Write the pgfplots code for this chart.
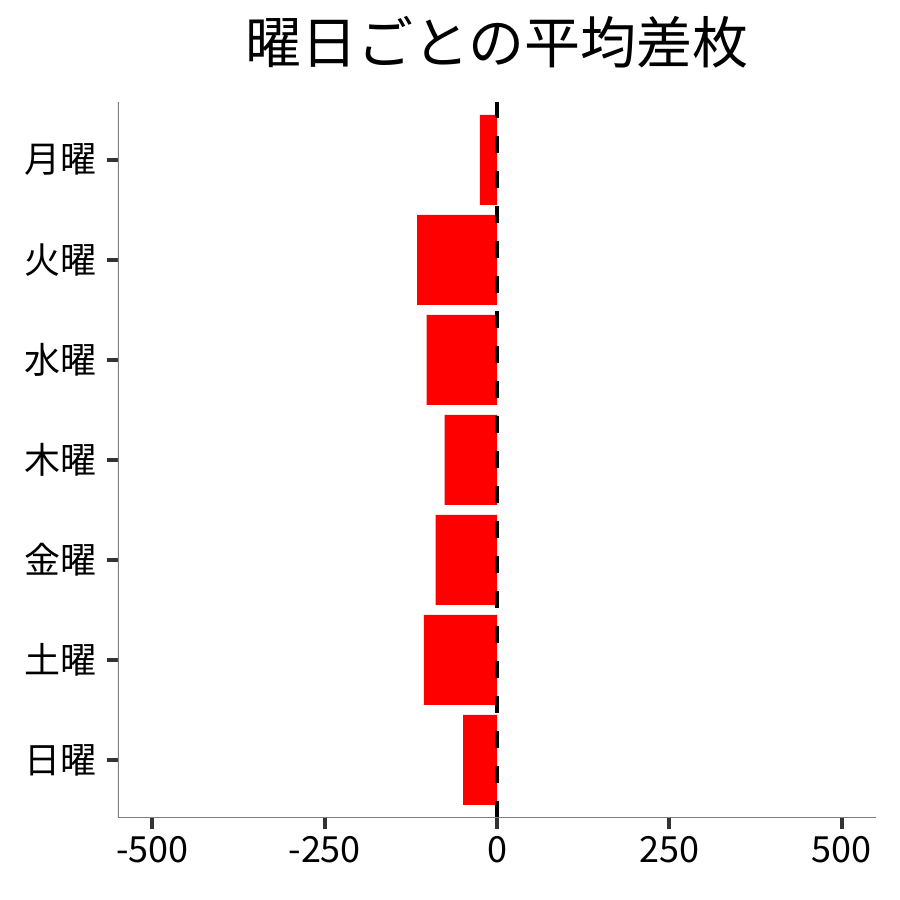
\documentclass[border=0pt]{standalone}
\usepackage{fontspec}
\setmainfont{Noto Sans CJK JP}
\usepackage{pgfplots}
\pgfplotsset{compat=1.18}
\definecolor{tickgray}{HTML}{333333}
\definecolor{linegray}{HTML}{7F7F7F}
\begin{document}
\begin{tikzpicture}
  \begin{axis}[
      scale only axis,
      width=379pt, height=358pt,
      xmin=-550, xmax=550,
      ymin=-0.58, ymax=6.58,
      xtick={-500,-250,0,250,500},
      ytick={0,1,2,3,4,5,6},
      yticklabels={日曜,土曜,金曜,木曜,水曜,火曜,月曜},
      axis line style={draw=none},
      xtick pos=bottom, ytick pos=left,
      tick align=outside,
      major tick length=5.5pt,
      tick style={draw=tickgray, line width=2pt},
      /pgf/number format/assume math mode=true,
      ticklabel style={font=\fontsize{18}{20}\selectfont, text=black},
      yticklabel style={xshift=-1.5pt},
      title={曜日ごとの平均差枚},
      title style={font=\fontsize{28}{32}\selectfont, at={(0.5,1)}, anchor=center, yshift=24pt},
    ]
    \addplot[xbar, bar width=0.9, fill=red, draw=none] coordinates {
      (-49,0) (-106,1) (-89,2) (-76,3) (-102,4) (-116,5) (-25,6)
    };
    \addplot[sharp plot, black, line width=2pt, dash pattern=on 8.5pt off 9pt, forget plot] coordinates {
      (0,-0.58) (0,6.58)
    };
    % left and bottom axis lines
    \draw[linegray, line width=0.6pt] (rel axis cs:0,1) -- (rel axis cs:0,0) -- (rel axis cs:1,0);
  \end{axis}
  \pgfresetboundingbox
  \useasboundingbox ([xshift=-59pt,yshift=-41pt]current axis.south west) rectangle ([xshift=12pt,yshift=51pt]current axis.north east);
\end{tikzpicture}
\end{document}
